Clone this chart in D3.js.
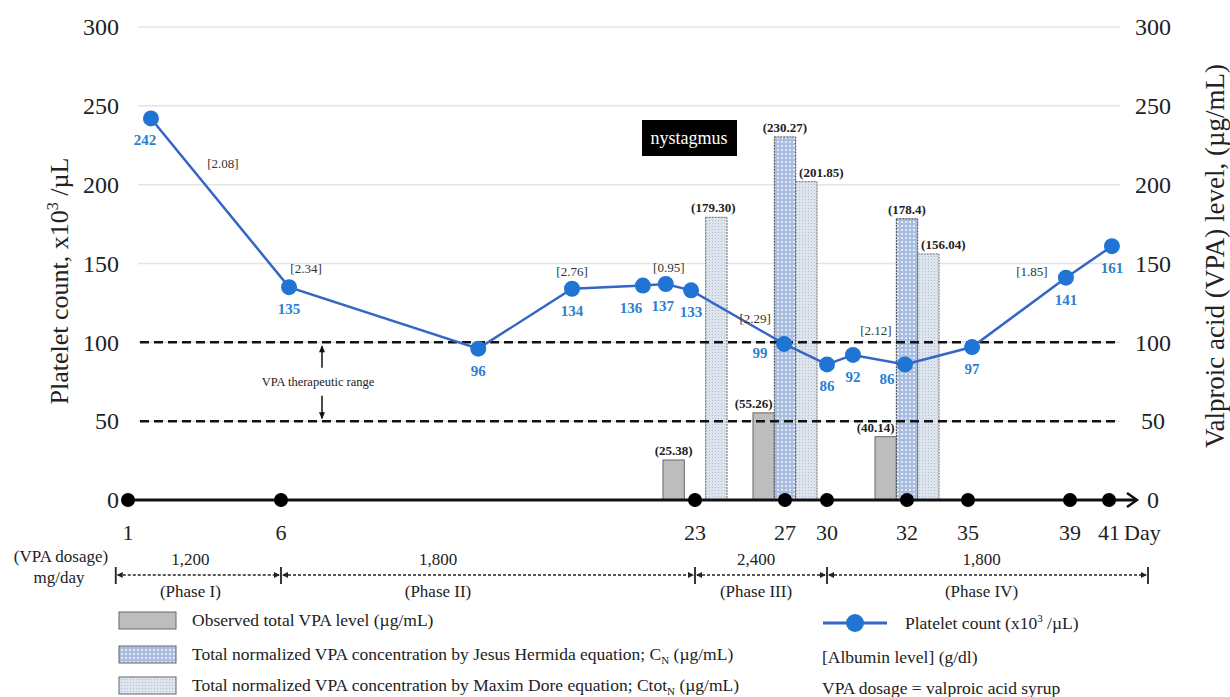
<!DOCTYPE html>
<html>
<head>
<meta charset="utf-8">
<script src="https://cdn.jsdelivr.net/npm/d3@7"></script>
<style>
  body { margin: 0; background: #fff; }
  svg { font-family: "Liberation Serif", "Times New Roman", serif; }
</style>
</head>
<body>
<div id="chart"></div>
<script>
// timeline ticks (days) - the axis is not uniform in time
const tickDays = [1, 6, 23, 27, 30, 32, 35, 39, 41];
const tickPos = [128, 281, 695, 785, 827, 907, 968, 1070, 1109];

// platelet count series (position on the timeline, value x10^3/uL)
const plateletDay = [1.75, 6.33, 14.1, 17.95, 20.86, 21.8, 22.84, 26.96, 30, 30.65, 31.95, 35.16, 38.84, 41.15];
const plateletCount = [242, 135, 96, 134, 136, 137, 133, 99, 86, 92, 86, 97, 141, 161];

// albumin level, attached to a platelet point
const albuminPoint = [0, 1, 3, 5, 7, 10, 12];
const albuminLevel = ["2.08", "2.34", "2.76", "0.95", "2.29", "2.12", "1.85"];

// VPA level bars
const barDays = [23, 27, 32];
const observedVPA = ["25.38", "55.26", "40.14"];
const jesusVPA = [null, "230.27", "178.4"];
const maximVPA = ["179.30", "201.85", "156.04"];

// dosing phases
const phaseStart = [0.6, 6, 23, 30];
const phaseEnd = [6, 23, 30, 43];
const phaseDose = ["1,200", "1,800", "2,400", "1,800"];
const phaseName = ["(Phase I)", "(Phase II)", "(Phase III)", "(Phase IV)"];

const yTicks = [0, 50, 100, 150, 200, 250, 300];
const therapeuticRange = [50, 100];

// layout / style
const width = 1230, height = 697;
const plotLeft = 138, plotRight = 1120;
const blueLine = "#3566c6", blueDot = "#1f74d4", blueText = "#2a7fd0";
const albuminOffset = [[72, 45], [17, -19], [0, -18], [3, -17], [-29, -26], [-29, -34], [-34, -7]];
const plateletLabelDx = { 5: -3, 4: -12, 7: -24, 10: -18 };
const plateletLabelDy = { 7: 9, 10: 15 };
const phaseLabelDx = [-8, -50, -5, -6];

const svg = d3.select("#chart").append("svg")
  .attr("width", width).attr("height", height);

const x = d3.scaleLinear().domain(tickDays).range(tickPos);
const y = d3.scaleLinear().domain([0, 300]).range([500, 27]);

// patterns for bars
const defs = svg.append("defs");
const pj = defs.append("pattern").attr("id", "jesus").attr("patternUnits", "userSpaceOnUse")
  .attr("width", 4).attr("height", 4);
pj.append("rect").attr("width", 4).attr("height", 4).attr("fill", "#a9bde0");
pj.append("circle").attr("cx", 2).attr("cy", 2).attr("r", 1.1).attr("fill", "#eef3fb");
const pm = defs.append("pattern").attr("id", "maxim").attr("patternUnits", "userSpaceOnUse")
  .attr("width", 3).attr("height", 3);
pm.append("rect").attr("width", 3).attr("height", 3).attr("fill", "#dde4ee");
pm.append("rect").attr("x", 1).attr("y", 1).attr("width", 1).attr("height", 1).attr("fill", "#b3bfd0");

const seriesStyle = {
  observed: { fill: "#bdbdbd", stroke: "#666", dash: null },
  jesus: { fill: "url(#jesus)", stroke: "#444", dash: "2,1" },
  maxim: { fill: "url(#maxim)", stroke: "#666", dash: "2,1" }
};

// gridlines
svg.append("g").selectAll("line")
  .data(yTicks.filter(d => d > 0))
  .join("line")
  .attr("x1", plotLeft).attr("x2", plotRight)
  .attr("y1", d => y(d)).attr("y2", d => y(d))
  .attr("stroke", "#e4e4e4").attr("stroke-width", 1.5);

// left and right axis labels
const leftAxis = svg.append("g").attr("transform", "translate(119,0)")
  .call(d3.axisLeft(y).tickValues(yTicks).tickSize(0).tickPadding(0));
leftAxis.select(".domain").remove();
leftAxis.selectAll("text").style("font-family", "Liberation Serif").style("font-size", "24px").attr("fill", "#222");

const rightAxis = svg.append("g").attr("transform", "translate(1153,0)")
  .call(d3.axisRight(y).tickValues(yTicks).tickSize(0).tickPadding(0));
rightAxis.select(".domain").remove();
rightAxis.selectAll("text").style("font-family", "Liberation Serif").style("font-size", "24px")
  .attr("text-anchor", "middle").attr("fill", "#222");

// bars
const sub = d3.scaleBand().domain(["observed", "jesus", "maxim"]).range([-32, 32]);
const barData = [];
barDays.forEach((day, i) => {
  [["observed", observedVPA[i]], ["jesus", jesusVPA[i]], ["maxim", maximVPA[i]]].forEach(([key, v]) => {
    if (v !== null) barData.push({ day, key, label: v, value: +v, group: i, hasJesus: jesusVPA[i] !== null });
  });
});

svg.append("g").selectAll("rect")
  .data(barData)
  .join("rect")
  .attr("x", d => x(d.day) + sub(d.key))
  .attr("width", sub.bandwidth())
  .attr("y", d => y(d.value))
  .attr("height", d => y(0) - y(d.value))
  .attr("fill", d => seriesStyle[d.key].fill)
  .attr("stroke", d => seriesStyle[d.key].stroke)
  .attr("stroke-dasharray", d => seriesStyle[d.key].dash)
  .attr("stroke-width", 1);

svg.append("g").selectAll("text")
  .data(barData)
  .join("text")
  .attr("x", d => {
    let dx = 0;
    if (d.key === "observed" && d.hasJesus) dx = -10;
    if (d.key === "maxim") dx = d.hasJesus ? 15 : -3;
    return x(d.day) + sub(d.key) + sub.bandwidth() / 2 + dx;
  })
  .attr("y", d => y(d.value) - 5)
  .attr("text-anchor", "middle")
  .style("font-size", "13px").style("font-weight", "bold")
  .attr("fill", "#222")
  .text(d => "(" + d.label + ")");

// therapeutic range dashed lines
svg.append("g").selectAll("line")
  .data(therapeuticRange)
  .join("line")
  .attr("x1", plotLeft + 2).attr("x2", plotRight)
  .attr("y1", d => y(d)).attr("y2", d => y(d))
  .attr("stroke", "#111").attr("stroke-width", 2.5).attr("stroke-dasharray", "9,5");

// therapeutic range annotation
const annX = 322;
const midY = y(d3.mean(therapeuticRange));
svg.append("line").attr("x1", annX).attr("x2", annX)
  .attr("y1", y(therapeuticRange[1]) + 4).attr("y2", midY - 14)
  .attr("stroke", "#111").attr("stroke-width", 1.5);
svg.append("path")
  .attr("d", `M${annX - 3},${y(therapeuticRange[1]) + 10}L${annX},${y(therapeuticRange[1]) + 3}L${annX + 3},${y(therapeuticRange[1]) + 10}Z`)
  .attr("fill", "#111");
svg.append("line").attr("x1", annX).attr("x2", annX)
  .attr("y1", midY + 14).attr("y2", y(therapeuticRange[0]) - 3)
  .attr("stroke", "#111").attr("stroke-width", 1.5);
svg.append("path")
  .attr("d", `M${annX - 3},${y(therapeuticRange[0]) - 9}L${annX},${y(therapeuticRange[0]) - 2}L${annX + 3},${y(therapeuticRange[0]) - 9}Z`)
  .attr("fill", "#111");
svg.append("text").attr("x", annX - 4).attr("y", midY + 4)
  .attr("text-anchor", "middle").style("font-size", "12.5px").attr("fill", "#222")
  .text("VPA therapeutic range");

// day axis line with arrow
const axisY = y(0);
const arrowTip = x(41) + 28;
svg.append("line").attr("x1", x(1)).attr("x2", arrowTip - 1)
  .attr("y1", axisY).attr("y2", axisY)
  .attr("stroke", "#111").attr("stroke-width", 3);
svg.append("path")
  .attr("d", `M${arrowTip - 10},${axisY - 7}L${arrowTip},${axisY}L${arrowTip - 10},${axisY + 7}`)
  .attr("fill", "none").attr("stroke", "#111").attr("stroke-width", 2.5);

svg.append("g").selectAll("circle")
  .data(tickDays)
  .join("circle")
  .attr("cx", d => x(d)).attr("cy", axisY).attr("r", 7).attr("fill", "#000");

svg.append("g").selectAll("text")
  .data(tickDays)
  .join("text")
  .attr("x", d => x(d)).attr("y", 540)
  .attr("text-anchor", "middle")
  .style("font-size", "22px").attr("fill", "#222")
  .text(d => d);
svg.append("text").attr("x", x(41) + 15).attr("y", 540)
  .style("font-size", "22px").attr("fill", "#222").text("Day");

// platelet line
const pts = plateletDay.map((d, i) => ({ day: d, value: plateletCount[i], i }));
svg.append("path")
  .datum(pts)
  .attr("fill", "none").attr("stroke", blueLine).attr("stroke-width", 2.5)
  .attr("d", d3.line().x(d => x(d.day)).y(d => y(d.value)));

svg.append("g").selectAll("circle")
  .data(pts)
  .join("circle")
  .attr("cx", d => x(d.day)).attr("cy", d => y(d.value))
  .attr("r", 8).attr("fill", blueDot);

svg.append("g").selectAll("text")
  .data(pts)
  .join("text")
  .attr("x", d => x(d.day) + (plateletLabelDx[d.i] || 0) + (d.i === 0 ? -6 : 0))
  .attr("y", d => y(d.value) + 27 + ((plateletLabelDy[d.i] || 22) - 22))
  .attr("text-anchor", "middle")
  .style("font-size", "15px").style("font-weight", "bold")
  .attr("fill", blueText)
  .text(d => d.value);

// albumin labels
svg.append("g").selectAll("text")
  .data(albuminPoint.map((p, i) => ({ p, level: albuminLevel[i], off: albuminOffset[i] })))
  .join("text")
  .attr("x", d => x(plateletDay[d.p]) + d.off[0])
  .attr("y", d => y(plateletCount[d.p]) + d.off[1] + 5)
  .attr("text-anchor", "middle")
  .style("font-size", "13px").attr("fill", "#333")
  .text(d => "[" + d.level + "]");

// nystagmus box
svg.append("rect").attr("x", 642).attr("y", 120).attr("width", 95).attr("height", 36).attr("fill", "#000");
svg.append("text").attr("x", 689).attr("y", 144).attr("text-anchor", "middle")
  .style("font-size", "18px").attr("fill", "#fff").text("nystagmus");

// axis titles
const lt = svg.append("text").attr("transform", "translate(68,281) rotate(-90)")
  .attr("text-anchor", "middle").style("font-size", "26px").attr("fill", "#222");
lt.append("tspan").text("Platelet count, x10");
lt.append("tspan").attr("dy", -10).style("font-size", "16px").text("3");
lt.append("tspan").attr("dy", 10).text(" /µL");

svg.append("text").attr("transform", "translate(1224,256) rotate(-90)")
  .attr("text-anchor", "middle").style("font-size", "27px").attr("fill", "#222")
  .text("Valproic acid (VPA) level, (µg/mL)");

// dosing phases
const phaseY = 575;
svg.append("text").attr("x", 61).attr("y", 562).attr("text-anchor", "middle")
  .style("font-size", "17px").attr("fill", "#222").text("(VPA dosage)");
svg.append("text").attr("x", 59).attr("y", 583).attr("text-anchor", "middle")
  .style("font-size", "17px").attr("fill", "#222").text("mg/day");

const phases = phaseStart.map((s, i) => ({ s, e: phaseEnd[i], dose: phaseDose[i], name: phaseName[i], i }));
const pg = svg.append("g");
pg.selectAll("line.seg")
  .data(phases)
  .join("line").attr("class", "seg")
  .attr("x1", d => x(d.s) + 2).attr("x2", d => x(d.e) - 2)
  .attr("y1", phaseY).attr("y2", phaseY)
  .attr("stroke", "#222").attr("stroke-width", 1.5).attr("stroke-dasharray", "3,2");
pg.selectAll("path.ahL")
  .data(phases)
  .join("path").attr("class", "ahL")
  .attr("d", d => { const a = x(d.s) + 1; return `M${a},${phaseY}L${a + 6},${phaseY - 3}L${a + 6},${phaseY + 3}Z`; })
  .attr("fill", "#222");
pg.selectAll("path.ahR")
  .data(phases)
  .join("path").attr("class", "ahR")
  .attr("d", d => { const a = x(d.e) - 1; return `M${a},${phaseY}L${a - 6},${phaseY - 3}L${a - 6},${phaseY + 3}Z`; })
  .attr("fill", "#222");
pg.selectAll("line.tk")
  .data(phaseStart.concat([phaseEnd[phaseEnd.length - 1]]))
  .join("line").attr("class", "tk")
  .attr("x1", d => x(d)).attr("x2", d => x(d))
  .attr("y1", phaseY - 8).attr("y2", phaseY + 9)
  .attr("stroke", "#222").attr("stroke-width", 1.8);
pg.selectAll("text.dose")
  .data(phases)
  .join("text").attr("class", "dose")
  .attr("x", d => (x(d.s) + x(d.e)) / 2 + phaseLabelDx[d.i])
  .attr("y", 565).attr("text-anchor", "middle")
  .style("font-size", "17px").attr("fill", "#222")
  .text(d => d.dose);
pg.selectAll("text.name")
  .data(phases)
  .join("text").attr("class", "name")
  .attr("x", d => (x(d.s) + x(d.e)) / 2 + phaseLabelDx[d.i])
  .attr("y", 597).attr("text-anchor", "middle")
  .style("font-size", "17px").attr("fill", "#222")
  .text(d => d.name);

// legend
const legend = svg.append("g");
const legItems = [
  { key: "observed", y: 620, parts: [["Observed total VPA level (µg/mL)"]] },
  { key: "jesus", y: 654, parts: [["Total normalized VPA concentration by Jesus Hermida equation; C"], ["N", "sub"], [" (µg/mL)"]] },
  { key: "maxim", y: 685, parts: [["Total normalized VPA concentration by Maxim Dore equation; Ctot"], ["N", "sub"], [" (µg/mL)"]] }
];
legItems.forEach(it => {
  legend.append("rect").attr("x", 119).attr("y", it.y - 8).attr("width", 57).attr("height", 17)
    .attr("fill", seriesStyle[it.key].fill).attr("stroke", "#666").attr("stroke-width", 1);
  const t = legend.append("text").attr("x", 192).attr("y", it.y + 6)
    .style("font-size", "17.5px").attr("fill", "#222");
  it.parts.forEach(([s, kind]) => {
    if (kind === "sub") {
      t.append("tspan").attr("dy", 4).style("font-size", "11px").text(s);
    } else {
      const ts = t.append("tspan").text(s);
      if (t.selectAll("tspan").size() > 1) ts.attr("dy", -4);
    }
  });
});

legend.append("line").attr("x1", 823).attr("x2", 887).attr("y1", 623).attr("y2", 623)
  .attr("stroke", blueLine).attr("stroke-width", 3);
legend.append("circle").attr("cx", 855).attr("cy", 623).attr("r", 9).attr("fill", blueDot);
const lp = legend.append("text").attr("x", 905).attr("y", 629).style("font-size", "17.5px").attr("fill", "#222");
lp.append("tspan").text("Platelet count (x10");
lp.append("tspan").attr("dy", -7).style("font-size", "11px").text("3");
lp.append("tspan").attr("dy", 7).text(" /µL)");
legend.append("text").attr("x", 822).attr("y", 663).style("font-size", "17.5px").attr("fill", "#222")
  .text("[Albumin level] (g/dl)");
legend.append("text").attr("x", 822).attr("y", 694).style("font-size", "17.5px").attr("fill", "#222")
  .text("VPA dosage = valproic acid syrup");
</script>
</body>
</html>
